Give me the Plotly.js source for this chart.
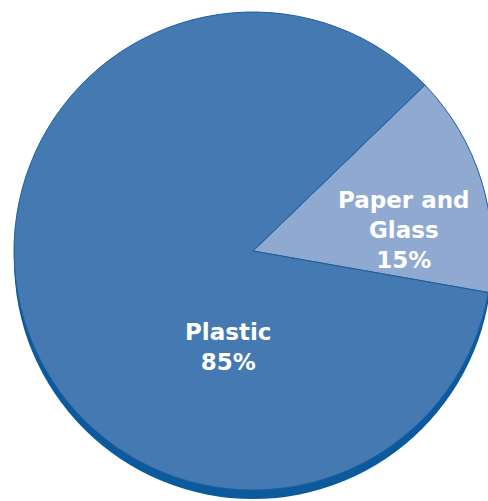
<!DOCTYPE html>
<html>
<head>
<meta charset="utf-8">
<script src="https://cdn.plot.ly/plotly-3.0.1.min.js"></script>
<style>
html,body{margin:0;padding:0;overflow:hidden;background:#fff;width:488px;height:501px;}
#chart{width:508px;height:504px;}
</style>
</head>
<body>
<div id="chart"></div>
<script>
const labels = ["Paper and Glass", "Plastic"];
const values = [15, 85];
const labelLines = ["Paper and<br>Glass", "Plastic"];
const colors = ["#8fa9d0", "#4479b1"];

const W = 508, H = 504;
const R = 239, CX = 253, CY = 251, SHADOW = 9;

function dom(cx, cy) {
  return {
    x: [(cx - R) / W, (cx + R) / W],
    y: [(H - (cy + R)) / H, (H - (cy - R)) / H]
  };
}

const total = values.reduce((a, b) => a + b, 0);

const shadow = {
  type: "pie",
  values: [total],
  labels: ["shadow"],
  marker: {colors: ["#0b5a9e"], line: {width: 0}},
  textinfo: "none",
  hoverinfo: "skip",
  sort: false,
  showlegend: false,
  domain: dom(CX, CY + SHADOW)
};

const main = {
  type: "pie",
  values: values,
  labels: labels,
  marker: {colors: colors, line: {color: "#1d5e9f", width: 1}},
  textinfo: "none",
  sort: false,
  direction: "clockwise",
  rotation: 46,
  showlegend: false,
  domain: dom(CX, CY)
};

const labelPos = [[404, 230], [228, 347]];
const annotations = labels.map((l, i) => ({
  xref: "paper", yref: "paper",
  x: labelPos[i][0] / W, y: 1 - labelPos[i][1] / H,
  xanchor: "center", yanchor: "middle",
  showarrow: false,
  text: "<b>" + labelLines[i] + "<br>" + Math.round(values[i] / total * 100) + "%</b>",
  font: {family: "DejaVu Sans, Verdana, sans-serif", size: 23, color: "#ffffff"}
}));

Plotly.newPlot("chart", [shadow, main], {
  width: W, height: H,
  margin: {l: 0, r: 0, t: 0, b: 0},
  paper_bgcolor: "#ffffff",
  annotations: annotations,
  showlegend: false
}, {staticPlot: true, displayModeBar: false});
</script>
</body>
</html>
